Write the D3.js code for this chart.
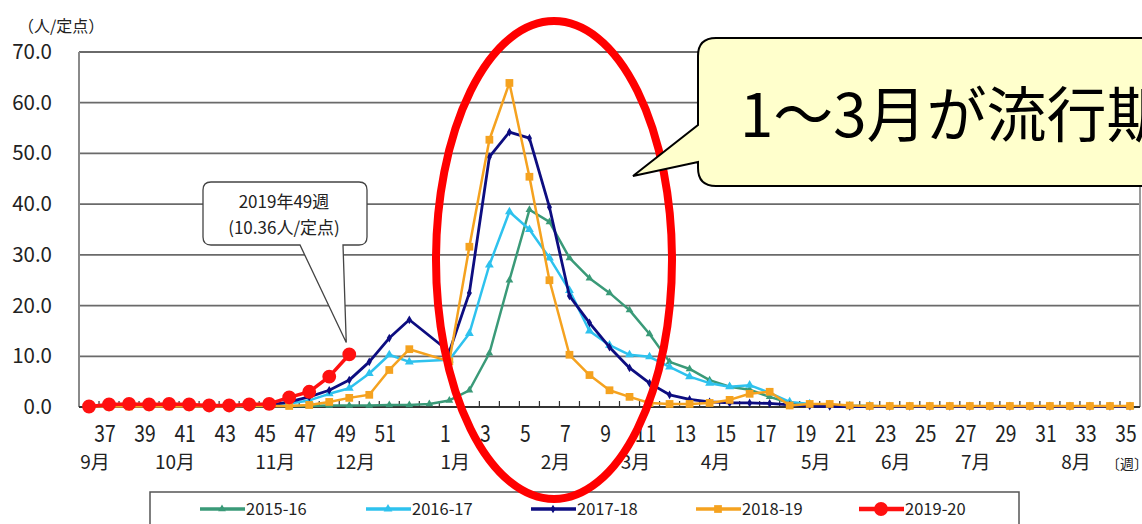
<!DOCTYPE html>
<html>
<head>
<meta charset="utf-8">
<script src="https://cdn.jsdelivr.net/npm/d3@7"></script>
<style>
  body { margin: 0; background: #fff; }
  svg { display: block; }
  text { font-family: "Noto Sans CJK JP", "Noto Sans", sans-serif; fill: #222; }
</style>
</head>
<body>
<div id="chart"></div>
<script>
// weeks from 36 (Sep) through 35 (Aug) of next year, 53 slots
const weeks = [36, 37, 38, 39, 40, 41, 42, 43, 44, 45, 46, 47, 48, 49, 50, 51, 52, 53,
  1, 2, 3, 4, 5, 6, 7, 8, 9, 10, 11, 12, 13, 14, 15, 16, 17, 18, 19, 20, 21, 22, 23, 24, 25,
  26, 27, 28, 29, 30, 31, 32, 33, 34, 35];
const weekTicks = [37, 39, 41, 43, 45, 47, 49, 51, 1, 3, 5, 7, 9, 11, 13, 15, 17, 19, 21,
  23, 25, 27, 29, 31, 33, 35];
const monthWeeks = [36, 40, 45, 49, 1, 6, 10, 14, 19, 23, 27, 32];
const monthNames = ['9月', '10月', '11月', '12月', '1月', '2月', '3月', '4月', '5月', '6月', '7月', '8月'];
const yTicks = [0, 10, 20, 30, 40, 50, 60, 70];

const seasons = ['2015-16', '2016-17', '2017-18', '2018-19', '2019-20'];

const s2015 = [0.1, 0.1, 0.1, 0.1, 0.1, 0.1, 0.1, 0.1, 0.2, 0.2, 0.2, 0.2, 0.3, 0.3, 0.3, 0.4, 0.4, 0.6,
  1.3, 3.3, 10.6, 25.0, 38.9, 36.5, 29.4, 25.4, 22.5, 19.1, 14.4, 8.9, 7.5, 5.3, 4.0, 3.4, 2.0,
  0.8, 0.5, 0.3, 0.2, 0.2, 0.1, 0.1, 0.1, 0.1, 0.1, 0.1, 0.1, 0.1, 0.1, 0.1, 0.1, 0.1, 0.1];
const s2016 = [0.1, 0.1, 0.1, 0.1, 0.2, 0.2, 0.2, 0.3, 0.3, 0.4, 0.7, 1.3, 2.6, 3.7, 6.6, 10.3, 8.9, null,
  9.3, 14.5, 28.0, 38.5, 35.0, 29.4, 23.0, 15.0, 12.2, 10.3, 9.9, 7.9, 6.0, 4.7, 4.0, 4.3, 2.8,
  1.0, 0.6, 0.4, 0.2, 0.2, 0.1, 0.1, 0.1, 0.1, 0.1, 0.1, 0.1, 0.1, 0.1, 0.1, 0.1, 0.1, 0.1];
const s2017 = [0.1, 0.1, 0.1, 0.1, 0.1, 0.1, 0.1, 0.1, 0.2, 0.3, 1.0, 2.0, 3.3, 5.3, 8.9, 13.6, 17.2, null,
  10.9, 22.5, 49.3, 54.2, 53.0, 39.4, 21.9, 16.6, 11.8, 7.7, 4.7, 2.4, 1.5, 1.0, 0.8, 0.8, 0.7,
  0.4, 0.2, 0.1, 0.1, 0.1, 0.1, 0.1, 0.1, 0.1, 0.1, 0.1, 0.1, 0.1, 0.1, 0.1, 0.1, 0.1, 0.1];
const s2018 = [0.1, 0.1, 0.1, 0.1, 0.1, 0.1, 0.1, 0.1, 0.2, 0.2, 0.2, 0.4, 1.0, 1.8, 2.4, 7.3, 11.4, null,
  9.0, 31.6, 52.7, 63.9, 45.4, 25.0, 10.3, 6.3, 3.3, 2.0, 0.8, 0.6, 0.6, 0.8, 1.4, 2.6, 3.0,
  0.3, 0.6, 0.6, 0.3, 0.2, 0.2, 0.2, 0.2, 0.2, 0.2, 0.2, 0.2, 0.2, 0.2, 0.2, 0.2, 0.2, 0.2];
const s2019 = [0.1, 0.5, 0.6, 0.5, 0.6, 0.5, 0.3, 0.3, 0.5, 0.6, 1.9, 3.0, 6.0, 10.36];

const colors = ['#3a9a78', '#2ec2ee', '#0d0d80', '#f5a21f', '#ff1010'];
const symbols = [d3.symbolTriangle, d3.symbolTriangle, d3.symbolDiamond, d3.symbolSquare, d3.symbolCircle];
const symbolSizes = [26, 34, 22, 60, 150];
const lineWidths = [2.5, 2.5, 2.8, 2.5, 3.5];

const svg = d3.select('#chart').append('svg')
  .attr('width', 1142)
  .attr('height', 524);

const margin = {top: 52, right: 2, bottom: 117, left: 79};
const width = 1142 - margin.left - margin.right;
const height = 524 - margin.top - margin.bottom;

const x = d3.scaleBand().domain(weeks).range([0, width]);
const cx = (w) => x(w) + x.bandwidth() / 2;
const y = d3.scaleLinear().domain([0, 70]).range([height, 0]);

const g = svg.append('g')
  .attr('transform', 'translate(' + margin.left + ',' + margin.top + ')');

// gridlines + y labels
g.append('g')
  .selectAll('line')
  .data(yTicks.filter(t => t > 0))
  .join('line')
  .attr('x1', 0).attr('x2', width)
  .attr('y1', d => y(d)).attr('y2', d => y(d))
  .attr('stroke', '#6a6a6a')
  .attr('stroke-width', 1.8);

g.append('g')
  .selectAll('text')
  .data(yTicks)
  .join('text')
  .attr('x', -27)
  .attr('y', d => y(d) + 7)
  .attr('text-anchor', 'end')
  .attr('font-size', 20.5)
  .text(d => d.toFixed(1));

svg.append('text')
  .attr('x', 18).attr('y', 32)
  .attr('font-size', 16)
  .text('（人/定点）');

// plot frame
g.append('line').attr('x1', 0).attr('x2', 0).attr('y1', 0).attr('y2', height)
  .attr('stroke', '#8a8a8a').attr('stroke-width', 2);
g.append('line').attr('x1', width).attr('x2', width).attr('y1', 0).attr('y2', height)
  .attr('stroke', '#9a9a9a').attr('stroke-width', 2);

// x axis: line, inward ticks at category boundaries
g.append('line').attr('x1', 0).attr('x2', width).attr('y1', height).attr('y2', height)
  .attr('stroke', '#333').attr('stroke-width', 2);
g.append('g')
  .selectAll('line')
  .data(weeks.slice(1))
  .join('line')
  .attr('x1', d => x(d)).attr('x2', d => x(d))
  .attr('y1', height).attr('y2', height - 6)
  .attr('stroke', '#333').attr('stroke-width', 1.2);

g.append('g')
  .selectAll('text')
  .data(weekTicks)
  .join('text')
  .attr('transform', d => 'translate(' + (cx(d) - 4) + ',' + (height + 35) + ') scale(0.84,1)')
  .attr('text-anchor', 'middle')
  .attr('font-size', 23)
  .text(d => d);

g.append('g')
  .selectAll('text')
  .data(monthWeeks)
  .join('text')
  .attr('x', d => cx(d) + 6)
  .attr('y', height + 62)
  .attr('text-anchor', 'middle')
  .attr('font-size', 19)
  .text((d, i) => monthNames[i]);

svg.append('text')
  .attr('x', 1106).attr('y', 469)
  .attr('font-size', 14)
  .text('〔週〕');

// series
const seriesData = [s2015, s2016, s2017, s2018, s2019].map(vals =>
  weeks.map((w, i) => ({w: w, v: vals[i]})).filter(d => d.v != null));

const line = d3.line()
  .x(d => cx(d.w))
  .y(d => y(d.v));

seriesData.forEach((data, k) => {
  const sg = g.append('g');
  sg.append('path')
    .datum(data)
    .attr('d', line)
    .attr('fill', 'none')
    .attr('stroke', colors[k])
    .attr('stroke-width', lineWidths[k])
    .attr('stroke-linejoin', 'round');
  sg.selectAll('path.marker')
    .data(data)
    .join('path')
    .attr('class', 'marker')
    .attr('transform', d => 'translate(' + cx(d.w) + ',' + y(d.v) + ')')
    .attr('d', d3.symbol().type(symbols[k]).size(symbolSizes[k]))
    .attr('fill', colors[k]);
});

// legend
const legend = svg.append('g');
legend.append('rect')
  .attr('x', 150).attr('y', 492)
  .attr('width', 869).attr('height', 40)
  .attr('fill', '#fff')
  .attr('stroke', '#555')
  .attr('stroke-width', 1.5);

const legendX = [200, 366, 531, 696, 859];
seasons.forEach((s, k) => {
  const lg = legend.append('g').attr('transform', 'translate(' + legendX[k] + ',509)');
  lg.append('line').attr('x1', 0).attr('x2', 45)
    .attr('stroke', colors[k]).attr('stroke-width', lineWidths[k] + 0.8);
  lg.append('path')
    .attr('transform', 'translate(22,0)')
    .attr('d', d3.symbol().type(symbols[k]).size(symbolSizes[k]))
    .attr('fill', colors[k]);
  lg.append('text')
    .attr('x', 46).attr('y', 6)
    .attr('font-size', 16.5)
    .text(s);
});

// callout for 2019 week 49
const tipX = cx(49) - 3;
const tipY = y(10.36) - 12;
svg.append('path')
  .attr('d', 'M211,182 H359 Q367,182 367,190 V237 Q367,245 359,245 H343 L' +
    (tipX + margin.left) + ',' + (tipY + margin.top) + ' L300,245 H211 Q203,245 203,237 V190 Q203,182 211,182 Z')
  .attr('fill', '#fff')
  .attr('stroke', '#444')
  .attr('stroke-width', 1.3);
svg.append('text')
  .attr('x', 284).attr('y', 208)
  .attr('text-anchor', 'middle')
  .attr('font-size', 17)
  .text('2019年49週');
svg.append('text')
  .attr('x', 284).attr('y', 234)
  .attr('text-anchor', 'middle')
  .attr('font-size', 17)
  .text('(10.36人/定点)');

// red ellipse highlight
svg.append('ellipse')
  .attr('cx', 554).attr('cy', 260)
  .attr('rx', 118).attr('ry', 239)
  .attr('fill', 'none')
  .attr('stroke', '#ff0000')
  .attr('stroke-width', 8);

// big speech bubble
svg.append('path')
  .attr('d', 'M716,38 H1170 V186 H716 Q698,186 698,168 V162 L633,176 L698,125 V56 Q698,38 716,38 Z')
  .attr('fill', '#ffffcc')
  .attr('stroke', '#000')
  .attr('stroke-width', 2);
svg.append('text')
  .attr('x', 740).attr('y', 137)
  .attr('font-size', 60)
  .style('fill', '#000')
  .text('1～3月が流行期');
</script>
</body>
</html>
